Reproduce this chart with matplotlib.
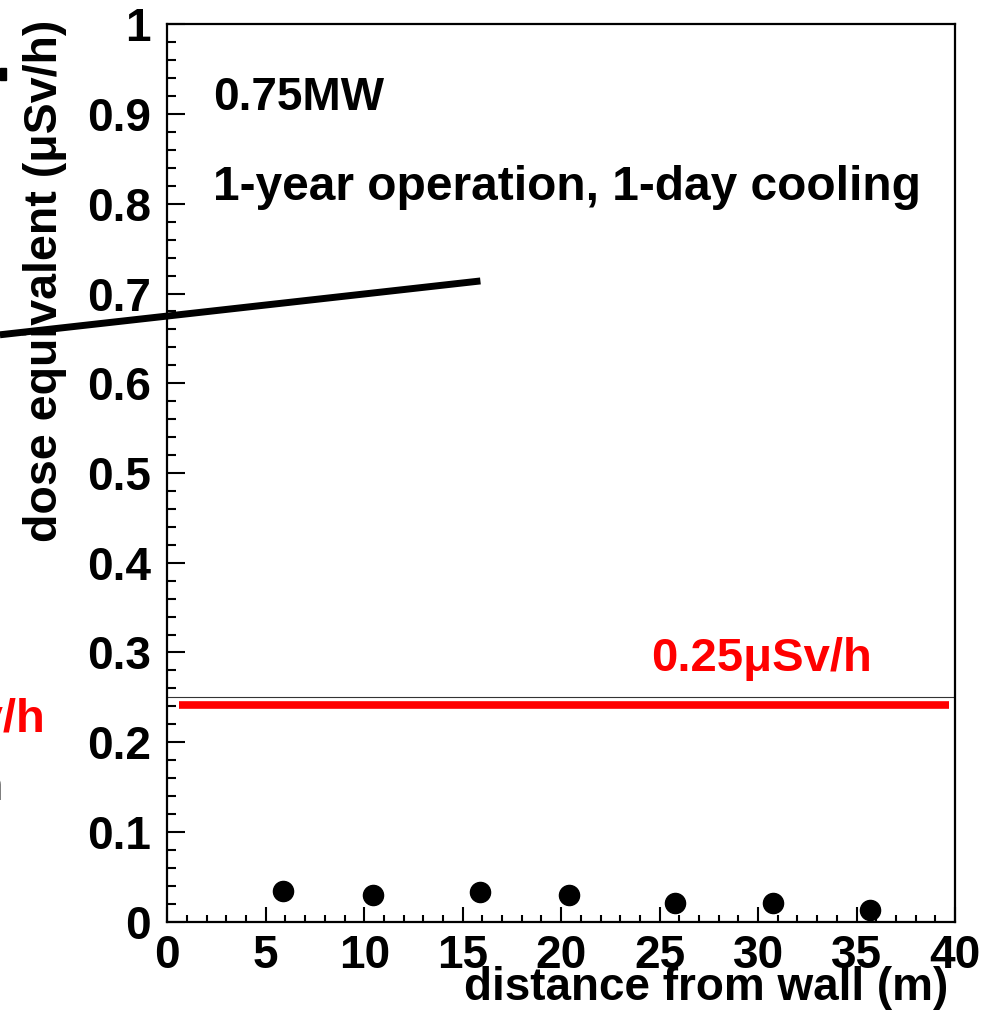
import matplotlib
matplotlib.use("Agg")
import matplotlib.pyplot as plt
from matplotlib.ticker import MultipleLocator, FixedLocator, FixedFormatter
from matplotlib.patches import Rectangle

plt.rcParams['font.family'] = ['Liberation Sans', 'DejaVu Sans']
plt.rcParams['font.weight'] = 'bold'

# measured dose points
distance = [5.9, 10.45, 15.9, 20.4, 25.8, 30.75, 35.7]
dose = [0.034, 0.030, 0.033, 0.030, 0.0205, 0.0205, 0.013]

# line continuing from the neighbouring panel
trend_x = [-8.5, 15.9]
trend_y = [0.654, 0.714]

# limit lines
limit_value = 0.25
limit_drawn = 0.242
limit_x = [0.6, 39.7]

ytick_vals = [0, 0.1, 0.2, 0.3, 0.4, 0.5, 0.6, 0.7, 0.8, 0.9, 1.0]
ytick_labels = ['0', '0.1', '0.2', '0.3', '0.4', '0.5', '0.6', '0.7', '0.8', '0.9', '1']
xtick_vals = [0, 5, 10, 15, 20, 25, 30, 35, 40]
xtick_labels = ['0', '5', '10', '15', '20', '25', '30', '35', '40']

W, H = 989, 1018
fig = plt.figure(figsize=(W / 100, H / 100), dpi=100)
ax = fig.add_axes([167.3 / W, 1 - 921.7 / H, (955 - 167.3) / W, (921.7 - 24.3) / H])
ax.set_xlim(0, 40)
ax.set_ylim(0, 1)

for s in ax.spines.values():
    s.set_linewidth(1.6)

ax.xaxis.set_major_locator(FixedLocator(xtick_vals))
ax.xaxis.set_major_formatter(FixedFormatter(xtick_labels))
ax.xaxis.set_minor_locator(MultipleLocator(1))
ax.yaxis.set_major_locator(FixedLocator(ytick_vals))
ax.yaxis.set_major_formatter(FixedFormatter(ytick_labels))
ax.yaxis.set_minor_locator(MultipleLocator(0.02))

ax.tick_params(axis='both', which='both', direction='in', top=False, right=False, width=1.5)
ax.tick_params(axis='x', which='major', length=11, pad=9, labelsize=33)
ax.tick_params(axis='x', which='minor', length=5.3)
ax.tick_params(axis='y', which='major', length=13, pad=12, labelsize=33)
ax.tick_params(axis='y', which='minor', length=6.5)

# thin reference line at 0.25 and thick red drawn line
ax.axhline(limit_value, color='#333333', lw=0.8)
ax.plot(limit_x, [limit_drawn, limit_drawn], color='#ff0000', lw=5.5, solid_capstyle='butt')

# black line from the neighbouring panel
ax.plot(trend_x, trend_y, color='black', lw=5, solid_capstyle='butt', clip_on=False)

# data points
ax.plot(distance, dose, 'o', color='black', markersize=14.5, clip_on=False)

ax.text(213 / W, 1 - 110 / H, '0.75MW', transform=fig.transFigure, fontsize=33,
        fontweight='bold', ha='left', va='baseline')
ax.text(213 / W, 1 - 200 / H, '1-year operation, 1-day cooling', transform=fig.transFigure,
        fontsize=34.5, fontweight='bold', ha='left', va='baseline')
ax.text(872 / W, 1 - 671 / H, '0.25μSv/h', transform=fig.transFigure, fontsize=34,
        fontweight='bold', ha='right', va='baseline', color='#ff0000')

# axis titles
fig.text(45 / W, 1 - 20 / H, 'dose equivalent (μSv/h)', rotation=90, fontsize=33.5,
         fontweight='bold', ha='right', va='center', rotation_mode='anchor')
fig.text(948 / W, 1 - 1000 / H, 'distance from wall (m)', fontsize=33,
         fontweight='bold', ha='right', va='baseline')

# fragments of the neighbouring panel at left edge
fig.text(45 / W, 1 - 732 / H, '0.25μSv/h', fontsize=34, fontweight='bold',
         ha='right', va='baseline', color='#ff0000')
fig.text(3 / W, 1 - 800 / H, 'operation', fontsize=34, fontweight='bold',
         ha='right', va='baseline', color='black')
fig.patches.append(Rectangle((0, 1 - 80 / H), 6 / W, 12 / H, transform=fig.transFigure,
                             color='black', figure=fig))

fig.savefig('out.png', dpi=100)
